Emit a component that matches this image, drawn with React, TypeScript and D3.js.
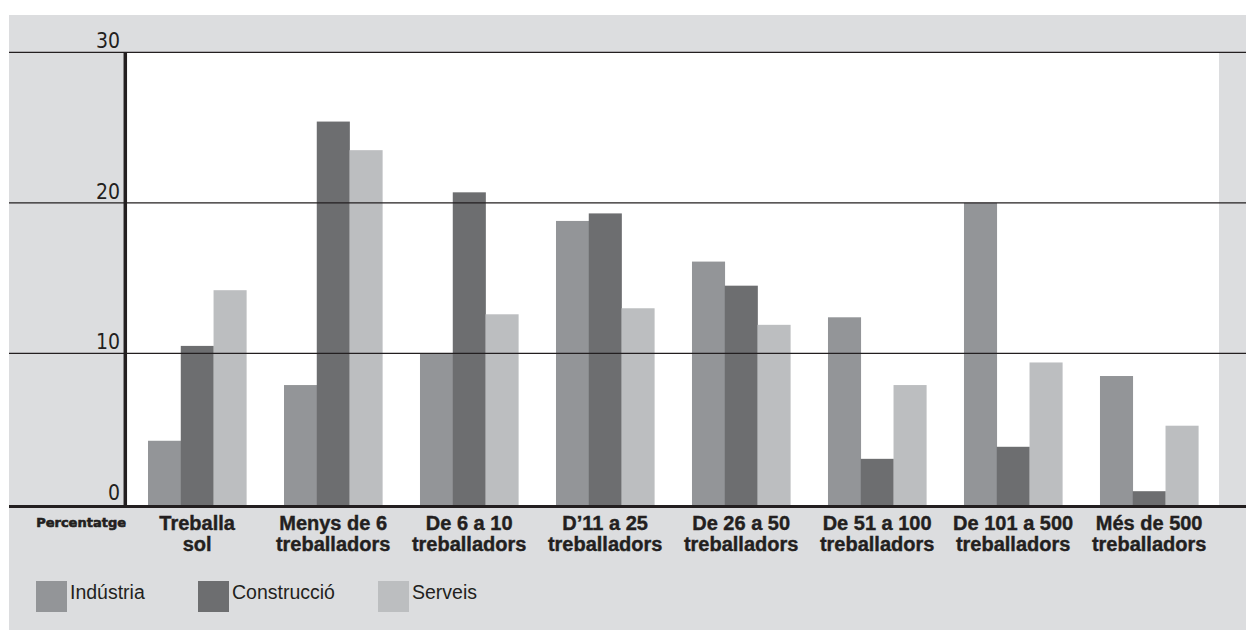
import React from "react";
import * as d3 from "d3";

const categories = [
  ["Treballa", "sol"],
  ["Menys de 6", "treballadors"],
  ["De 6 a 10", "treballadors"],
  ["D\u201911 a 25", "treballadors"],
  ["De 26 a 50", "treballadors"],
  ["De 51 a 100", "treballadors"],
  ["De 101 a 500", "treballadors"],
  ["Més de 500", "treballadors"],
];
const seriesNames = ["Indústria", "Construcció", "Serveis"];
const industria = [4.2, 7.9, 10.0, 18.8, 16.1, 12.4, 20.0, 8.5];
const construccio = [10.5, 25.4, 20.7, 19.3, 14.5, 3.0, 3.8, 0.85];
const serveis = [14.2, 23.5, 12.6, 13.0, 11.9, 7.9, 9.4, 5.2];
const yTicks = [0, 10, 20, 30];
const colors = ["#939598", "#6d6e70", "#bcbec0"];

const W = 1246;
const H = 630;
const INK = "#231f20";

export default function App() {
  const seriesValues = [industria, construccio, serveis];
  const keys = categories.map((c) => c.join(" "));
  const x0 = d3
    .scaleBand<string>()
    .domain(keys)
    .range([127.6, 1218.7])
    .paddingInner(0.277)
    .paddingOuter(0.15);
  const x1 = d3
    .scaleBand<string>()
    .domain(seriesNames)
    .range([0, x0.bandwidth()])
    .padding(0);
  const y = d3.scaleLinear().domain([0, 30]).range([504, 52.3]);

  return (
    <svg
      width={W}
      height={H}
      style={{ position: "absolute", left: 0, top: 0, background: "#fff" }}
    >
      <rect x={9} y={15} width={W - 9} height={H - 15} fill="#dcdddf" />
      <rect
        x={127}
        y={y(30)}
        width={1219 - 127}
        height={y(0) - y(30) + 1}
        fill="#ffffff"
      />
      {keys.map((k, i) => (
        <g key={k} transform={`translate(${x0(k)},0)`}>
          {seriesNames.map((s, j) => {
            const v = seriesValues[j][i];
            return (
              <rect
                key={s}
                x={x1(s)}
                y={y(v)}
                width={x1.bandwidth() + 0.3}
                height={y(0) - y(v) + 1}
                fill={colors[j]}
              />
            );
          })}
        </g>
      ))}
      {yTicks
        .filter((t) => t !== 0)
        .map((t) => (
          <line
            key={t}
            x1={9}
            x2={W}
            y1={y(t)}
            y2={y(t)}
            stroke={INK}
            strokeWidth={1.2}
          />
        ))}
      <line x1={9} x2={W} y1={y(0) + 2.5} y2={y(0) + 2.5} stroke={INK} strokeWidth={3} />
      <line x1={125.3} x2={125.3} y1={y(30)} y2={y(0) + 2} stroke={INK} strokeWidth={3.5} />
      {yTicks.map((t) => (
        <text
          key={t}
          x={120}
          y={y(t) - 4}
          textAnchor="end"
          fontFamily="'Liberation Sans Narrow', 'Arial Narrow', 'DejaVu Sans Condensed', sans-serif"
          fontStretch="condensed"
          fontSize={21}
          fill={INK}
        >
          {t}
        </text>
      ))}
      <text
        x={126}
        y={527}
        textAnchor="end"
        fontFamily="'DejaVu Sans', sans-serif"
        fontWeight="bold"
        fontSize={13}
        fill={INK}
        stroke={INK}
        strokeWidth={0.6}
      >
        Percentatge
      </text>
      {categories.map((c, i) => {
        const cx = (x0(keys[i]) as number) + x0.bandwidth() / 2;
        return (
          <text
            key={keys[i]}
            x={cx}
            textAnchor="middle"
            fontFamily="'Liberation Sans', Arial, sans-serif"
            fontWeight="bold"
            fontSize={20}
            fill={INK}
            stroke={INK}
            strokeWidth={0.4}
          >
            <tspan x={cx} y={530}>
              {c[0]}
            </tspan>
            <tspan x={cx} y={551}>
              {c[1]}
            </tspan>
          </text>
        );
      })}
      {seriesNames.map((s, j) => {
        const lx = [36, 198, 378][j];
        return (
          <g key={s}>
            <rect x={lx} y={581} width={31} height={31} fill={colors[j]} />
            <text
              x={lx + 34}
              y={599}
              fontFamily="'Liberation Sans', Arial, sans-serif"
              fontSize={19.5}
              fill={INK}
            >
              {s}
            </text>
          </g>
        );
      })}
    </svg>
  );
}
